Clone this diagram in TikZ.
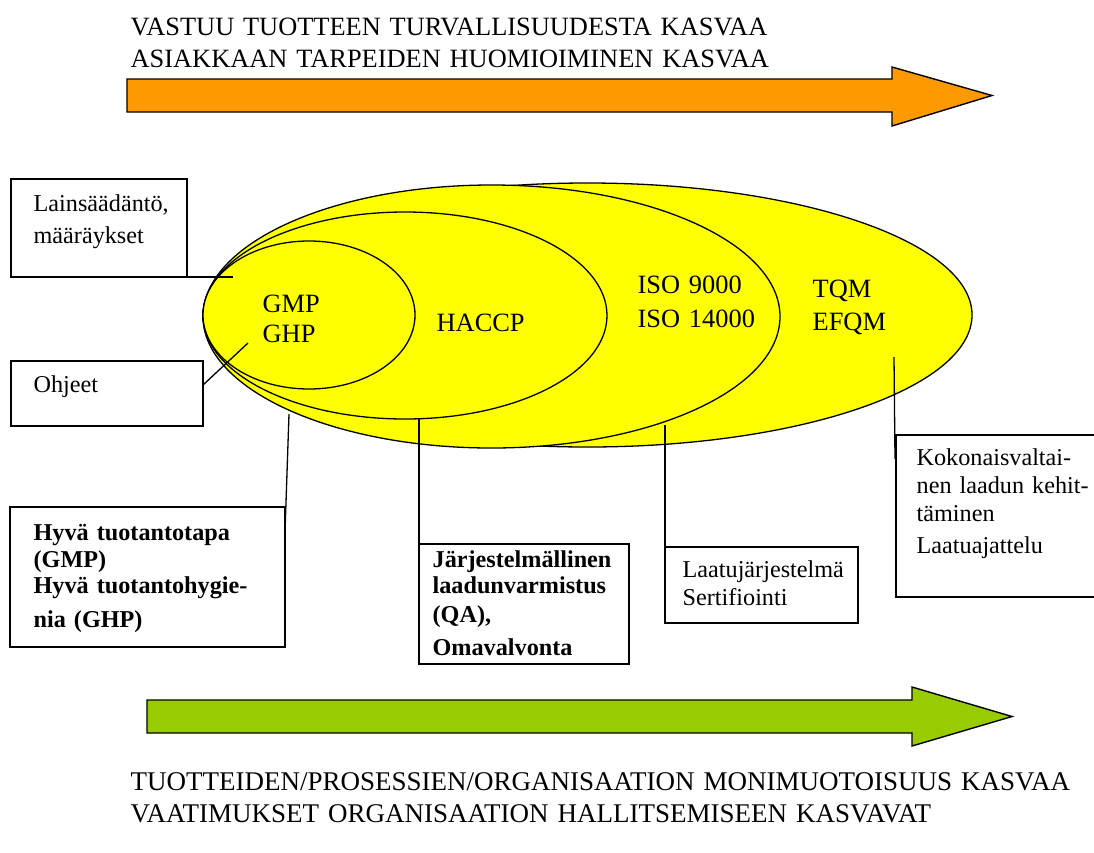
\documentclass[tikz,border=0pt]{standalone}
\usepackage{fontspec}
\setmainfont{Liberation Serif}
\usetikzlibrary{shapes.geometric,calc}
\newcommand\myBig{\fontsize{26.4}{32}\selectfont}
\newcommand\mySmall{\fontsize{24.2}{27}\selectfont}
\definecolor{arrorange}{HTML}{FF9900}
\definecolor{ellyellow}{HTML}{FFFF00}
\definecolor{arrgreen}{HTML}{99CC00}
\begin{document}
\begin{tikzpicture}[x=1pt,y=-1pt,line width=1.3pt,
  ell/.style={ellipse, draw, fill=ellyellow, inner sep=0pt, outer sep=0pt},
  infobox/.style={draw, anchor=north west, inner sep=0pt, outer sep=0pt},
  boxtxt/.style={anchor=base west, inner sep=0pt, text width=400pt, align=left, font=\mySmall},
  lbl/.style={anchor=base west, inner sep=0pt, text width=1000pt, align=left, font=\myBig},
  bigarrow/.style={draw, line width=1.4pt, line join=miter}]
\useasboundingbox (0,0) rectangle (1094,852);

% top heading and arrow
\node[lbl] (toptext) at (130,35) {VASTUU TUOTTEEN TURVALLISUUDESTA KASVAA\\ASIAKKAAN TARPEIDEN HUOMIOIMINEN KASVAA};
\draw[bigarrow, fill=arrorange] (127,79) -- (892,79) -- (892,67) -- (992,95.5) -- (892,126) -- (892,112) -- (127,112) -- cycle;

% nested ellipses
\node[ell, minimum width=769pt, minimum height=264pt] (tqm) at (587.5,315) {};
\node[ell, minimum width=577pt, minimum height=263pt] (iso) at (491.5,316.5) {};
\node[ell, minimum width=404pt, minimum height=207pt] (haccp) at (405,315.5) {};
\node[ell, minimum width=212pt, minimum height=148pt] (gmp) at (309,315) {};

\node[lbl, font=\fontsize{26.4}{30}\selectfont] (gmptxt) at (262,312) {GMP\\GHP};
\node[lbl] (haccptxt) at (436,331) {HACCP};
\node[lbl, font=\fontsize{26.4}{34}\selectfont] (isotxt) at (637,293) {ISO 9000\\ISO 14000};
\node[lbl, font=\fontsize{26.4}{33}\selectfont] (tqmtxt) at (812,297) {TQM\\EFQM};

% boxes
\node[infobox, minimum width=176pt, minimum height=98pt] (lain) at (11,179) {};
\node[boxtxt] (laintxt) at (33,211) {Lainsäädäntö,\\[5pt]määräykset};
\node[infobox, minimum width=192pt, minimum height=65pt] (ohj) at (11,361) {};
\node[boxtxt] (ohjtxt) at (33,392) {Ohjeet};
\node[infobox, minimum width=275pt, minimum height=140pt] (hyva) at (10,507) {};
\node[boxtxt, font=\mySmall\bfseries] (hyvatxt) at (33,540) {Hyvä tuotantotapa\\(GMP)\\[-1pt]Hyvä tuotantohygie-\\[7pt]nia (GHP)};
\node[infobox, minimum width=210pt, minimum height=120pt] (jarj) at (419,544) {};
\node[boxtxt, font=\mySmall\bfseries] (jarjtxt) at (432,567) {Järjestelmällinen\\[-1pt]laadunvarmistus\\[2pt](QA),\\[6pt]Omavalvonta};
\node[infobox, minimum width=193pt, minimum height=76pt] (laatu) at (665,547) {};
\node[boxtxt] (laatutxt) at (682,577) {Laatujärjestelmä\\[1pt]Sertifiointi};
\node[infobox, minimum width=202pt, minimum height=162pt] (kok) at (896,435) {};
\node[boxtxt] (koktxt) at (916,465) {Kokonaisvaltai-\\[1pt]nen laadun kehit-\\[1pt]täminen\\[5pt]Laatuajattelu};

% leader lines
\coordinate (c1) at (233,277);
\coordinate (c2) at (248,343);
\coordinate (c3) at (289,414);
\coordinate (c4) at (419,418);
\coordinate (c5) at (665,425);
\coordinate (c6) at (894,357);
\draw (lain.south east) -- (c1);
\draw ($(ohj.east)+(0,-8.5)$) -- (c2);
\draw (c3) -- ($(hyva.north east)+(0,25)$);
\draw (c4) -- (jarj.north west);
\draw (c5) -- (laatu.north west);
\draw (c6) -- ($(kok.north west)+(-1,24)$);

% bottom arrow and text
\draw[bigarrow, fill=arrgreen] (147,700) -- (912,700) -- (912,687) -- (1012,716.5) -- (912,746) -- (912,733) -- (147,733) -- cycle;
\node[lbl, font=\fontsize{27}{32}\selectfont] (bottomtext) at (130,790) {TUOTTEIDEN/PROSESSIEN/ORGANISAATION MONIMUOTOISUUS KASVAA\\VAATIMUKSET ORGANISAATION HALLITSEMISEEN KASVAVAT};
\end{tikzpicture}
\end{document}
